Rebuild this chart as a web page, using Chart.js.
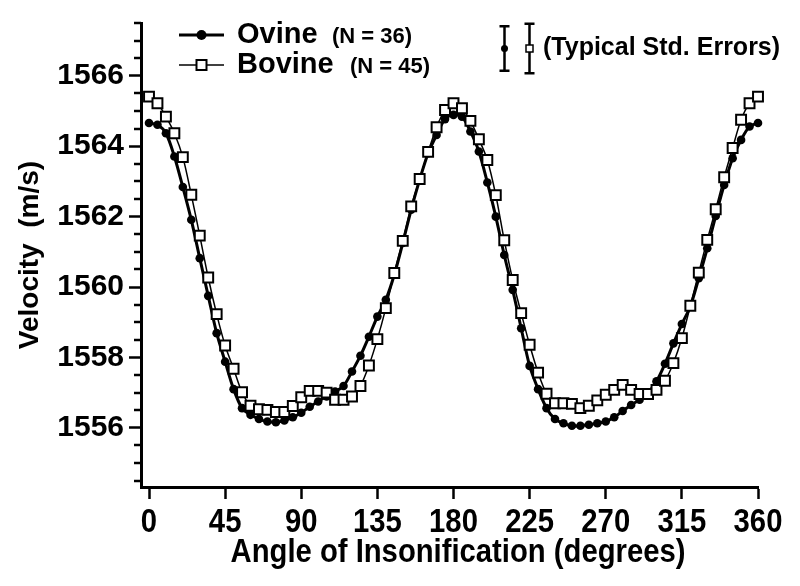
<!DOCTYPE html>
<html>
<head>
<meta charset="utf-8">
<script src="https://cdn.jsdelivr.net/npm/chart.js@4.4.0/dist/chart.umd.min.js"></script>
<style>
  html, body { margin: 0; padding: 0; background: #fff; }
</style>
</head>
<body>
<canvas id="chart" width="800" height="586"></canvas>
<script>
// angle of insonification, degrees
const angles = [0, 5, 10, 15, 20, 25, 30, 35, 40, 45, 50, 55, 60, 65, 70, 75, 80, 85, 90, 95,
  100, 105, 110, 115, 120, 125, 130, 135, 140, 145, 150, 155, 160, 165, 170, 175, 180, 185, 190, 195,
  200, 205, 210, 215, 220, 225, 230, 235, 240, 245, 250, 255, 260, 265, 270, 275, 280, 285, 290, 295,
  300, 305, 310, 315, 320, 325, 330, 335, 340, 345, 350, 355, 360];

// velocity (m/s)
const ovine = [1564.66, 1564.61, 1564.37, 1563.71, 1562.84, 1561.91, 1560.82, 1559.75, 1558.69, 1557.88,
  1557.10, 1556.56, 1556.37, 1556.25, 1556.18, 1556.16, 1556.21, 1556.30, 1556.43, 1556.60,
  1556.75, 1556.89, 1557.03, 1557.19, 1557.60, 1558.05, 1558.59, 1559.16, 1559.64, 1560.35,
  1561.25, 1562.20, 1563.05, 1563.80, 1564.32, 1564.77, 1564.89, 1564.84, 1564.42, 1563.85,
  1562.97, 1562.00, 1560.91, 1559.92, 1558.83, 1557.76, 1557.10, 1556.56, 1556.25, 1556.13,
  1556.06, 1556.06, 1556.09, 1556.13, 1556.18, 1556.30, 1556.48, 1556.65, 1556.80, 1557.00,
  1557.32, 1557.82, 1558.40, 1558.95, 1559.45, 1560.25, 1561.10, 1562.02, 1562.90, 1563.66,
  1564.18, 1564.56, 1564.66];

const bovine = [1565.41, 1565.22, 1564.84, 1564.37, 1563.69, 1562.62, 1561.46, 1560.27, 1559.23, 1558.34,
  1557.68, 1557.01, 1556.63, 1556.53, 1556.51, 1556.45, 1556.45, 1556.62, 1556.87, 1557.05,
  1557.05, 1557.00, 1556.80, 1556.80, 1556.89, 1557.19, 1557.77, 1558.52, 1559.40, 1560.40,
  1561.31, 1562.29, 1563.07, 1563.84, 1564.54, 1565.03, 1565.22, 1565.08, 1564.72, 1564.20,
  1563.61, 1562.61, 1561.33, 1560.20, 1559.26, 1558.36, 1557.57, 1556.97, 1556.70, 1556.70,
  1556.68, 1556.56, 1556.63, 1556.78, 1556.94, 1557.08, 1557.22, 1557.08, 1556.96, 1556.96,
  1557.08, 1557.34, 1557.84, 1558.55, 1559.47, 1560.41, 1561.34, 1562.21, 1563.12, 1563.95,
  1564.75, 1565.22, 1565.41];

const seriesNames = ["Ovine", "Bovine"];
const sampleCounts = ["(N = 36)", "(N = 45)"];
const typicalStdErr = [0.63, 0.70]; // ovine, bovine

const xTicks = [0, 45, 90, 135, 180, 225, 270, 315, 360];
const yTicks = [1556, 1558, 1560, 1562, 1564, 1566];
const yMinorTicks = [1554.5, 1555, 1555.5, 1556.5, 1557, 1557.5, 1558.5, 1559, 1559.5, 1560.5, 1561,
  1561.5, 1562.5, 1563, 1563.5, 1564.5, 1565, 1565.5, 1566.5, 1567, 1567.5];
const xTitle = "Angle of Insonification (degrees)";

const FONT = "'Liberation Sans', Arial, Helvetica, sans-serif";

function pts(vals) {
  return angles.map((a, i) => ({ x: a, y: vals[i] }));
}

// condensed bold text, like the original's x-axis lettering
function narrowText(ctx, text, x, y) {
  ctx.save();
  ctx.translate(x, y);
  ctx.scale(0.86, 1);
  ctx.fillText(text, 0, 0);
  ctx.restore();
}

const extras = {
  id: "extras",
  afterDraw(chart) {
    const ctx = chart.ctx;
    const ys = chart.scales.y;
    const xs = chart.scales.x;
    const left = chart.chartArea.left;
    ctx.save();
    ctx.strokeStyle = "#000";
    ctx.fillStyle = "#000";

    // minor ticks on the velocity axis
    ctx.lineWidth = 2.5;
    yMinorTicks.forEach((v) => {
      const py = Math.round(ys.getPixelForValue(v));
      ctx.beginPath();
      ctx.moveTo(left - 7, py);
      ctx.lineTo(left, py);
      ctx.stroke();
    });

    // x tick labels and title
    ctx.font = "bold 34px " + FONT;
    ctx.textAlign = "center";
    ctx.textBaseline = "alphabetic";
    xTicks.forEach((v) => narrowText(ctx, String(v), xs.getPixelForValue(v), 532));
    narrowText(ctx, xTitle, 458, 562);

    // legend
    const rows = [35, 65];
    const lineW = [3, 1.5];
    const noteX = [332, 350];
    ctx.textAlign = "left";
    rows.forEach((ry, i) => {
      ctx.lineWidth = lineW[i];
      ctx.beginPath();
      ctx.moveTo(179, ry);
      ctx.lineTo(224, ry);
      ctx.stroke();
      if (i === 0) {
        ctx.beginPath();
        ctx.arc(201.5, ry, 5, 0, Math.PI * 2);
        ctx.fill();
      } else {
        ctx.fillStyle = "#fff";
        ctx.fillRect(196.5, ry - 5, 10, 10);
        ctx.lineWidth = 2;
        ctx.strokeRect(196.5, ry - 5, 10, 10);
        ctx.fillStyle = "#000";
      }
      ctx.textBaseline = "middle";
      ctx.font = "bold 29px " + FONT;
      ctx.fillText(seriesNames[i], 237, ry);
      ctx.font = "bold 22px " + FONT;
      ctx.fillText(sampleCounts[i], noteX[i], ry + 2);
    });

    // typical std. errors
    const unit = Math.abs(ys.getPixelForValue(1556) - ys.getPixelForValue(1557));
    const cy = 48.5;
    const bx = [504.5, 529.5];
    bx.forEach((x, i) => {
      const h = typicalStdErr[i] * unit;
      ctx.lineWidth = 2.5;
      ctx.beginPath();
      ctx.moveTo(x, cy - h);
      ctx.lineTo(x, cy + h);
      ctx.moveTo(x - 5, cy - h);
      ctx.lineTo(x + 5, cy - h);
      ctx.moveTo(x - 5, cy + h);
      ctx.lineTo(x + 5, cy + h);
      ctx.stroke();
      if (i === 0) {
        ctx.beginPath();
        ctx.arc(x, cy, 3.5, 0, Math.PI * 2);
        ctx.fill();
      } else {
        ctx.fillStyle = "#fff";
        ctx.fillRect(x - 3.5, cy - 3.5, 7, 7);
        ctx.lineWidth = 1.5;
        ctx.strokeRect(x - 3.5, cy - 3.5, 7, 7);
        ctx.fillStyle = "#000";
      }
    });
    ctx.font = "bold 25px " + FONT;
    ctx.textBaseline = "middle";
    ctx.fillText("(Typical Std. Errors)", 543, cy);
    ctx.restore();
  },
};

new Chart(document.getElementById("chart"), {
  type: "line",
  data: {
    datasets: [
      {
        label: seriesNames[1],
        data: pts(bovine),
        order: 0,
        borderColor: "#000",
        borderWidth: 1.5,
        pointStyle: "rect",
        pointRadius: 7,
        pointBackgroundColor: "#fff",
        pointBorderColor: "#000",
        pointBorderWidth: 2,
        tension: 0.3,
        clip: false,
      },
      {
        label: seriesNames[0],
        data: pts(ovine),
        order: 1,
        borderColor: "#000",
        borderWidth: 3,
        pointStyle: "circle",
        pointRadius: 4.3,
        pointBackgroundColor: "#000",
        pointBorderColor: "#000",
        pointBorderWidth: 0,
        tension: 0.3,
        clip: false,
      },
    ],
  },
  options: {
    responsive: false,
    animation: false,
    events: [],
    layout: { padding: { top: 23, right: 42, left: 0, bottom: 0 } },
    plugins: { legend: { display: false }, tooltip: { enabled: false } },
    scales: {
      x: {
        type: "linear",
        min: -4.73,
        max: 360,
        afterBuildTicks: (s) => { s.ticks = xTicks.map((v) => ({ value: v })); },
        afterFit: (s) => { s.height = 99; },
        grid: { drawOnChartArea: false, tickLength: 12, tickWidth: 2.5, tickColor: "#000" },
        border: { display: true, width: 3, color: "#000" },
        ticks: { display: false },
        title: { display: false },
      },
      y: {
        min: 1554.32,
        max: 1567.5,
        afterBuildTicks: (s) => { s.ticks = yTicks.map((v) => ({ value: v })); },
        afterFit: (s) => { s.width = 141; },
        grid: { drawOnChartArea: false, tickLength: 12, tickWidth: 2.5, tickColor: "#000" },
        border: { display: true, width: 3, color: "#000" },
        ticks: {
          color: "#000",
          padding: 5,
          autoSkip: false,
          font: { family: FONT, size: 30, weight: "bold" },
          callback: (v) => String(v),
        },
        title: {
          display: true,
          text: "Velocity  (m/s)",
          color: "#000",
          padding: { top: 13, bottom: 0 },
          font: { family: FONT, size: 28, weight: "bold" },
        },
      },
    },
  },
  plugins: [extras],
});
</script>
</body>
</html>
